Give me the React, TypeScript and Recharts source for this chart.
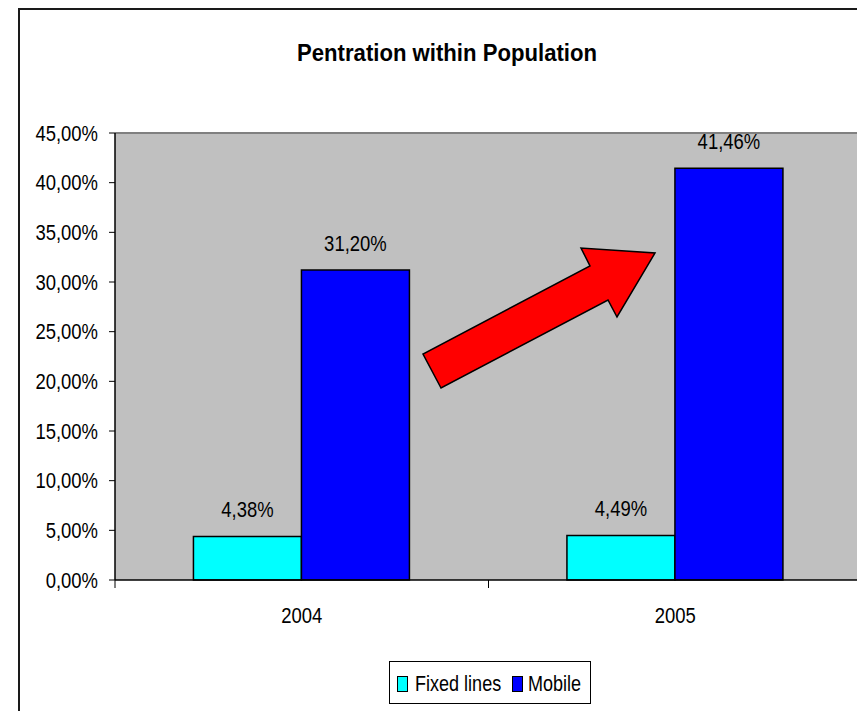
import {
  Bar,
  BarChart,
  CartesianGrid,
  Customized,
  LabelList,
  Legend,
  XAxis,
  YAxis,
} from "recharts";

const years = ["2004", "2005"];
const fixedLines = [4.38, 4.49];
const mobile = [31.2, 41.46];
const yTicks = [0, 5, 10, 15, 20, 25, 30, 35, 40, 45];

const data = years.map((year, i) => ({
  year,
  fixed: fixedLines[i],
  mobile: mobile[i],
}));

const FONT = "'Liberation Sans', Arial, sans-serif";
const FONT_SIZE = 22;
// no narrow face available, so text is squeezed horizontally
const SQUEEZE = 0.84;

// chart box and plot area (px, inside the framed box)
const W = 900;
const H = 760;
const PLOT_LEFT = 95;
const PLOT_TOP = 123;
const PLOT_RIGHT = 842;
const PLOT_BOTTOM = 570;
const X_AXIS_H = 40;
const BAND = (PLOT_RIGHT - PLOT_LEFT) / years.length;

const pct = (v: number) => v.toFixed(2).replace(".", ",") + "%";

interface NarrowProps {
  x: number;
  y: number;
  anchor?: "start" | "middle" | "end";
  dy?: string;
  squeeze?: number;
  children: React.ReactNode;
}

const NarrowText = ({ x, y, anchor = "middle", dy, squeeze = SQUEEZE, children }: NarrowProps) => (
  <text
    transform={`translate(${x},${y}) scale(${squeeze},1)`}
    textAnchor={anchor}
    dy={dy}
    fill="#000"
    fontSize={FONT_SIZE}
    fontFamily={FONT}
  >
    {children}
  </text>
);

// category label in the middle, tick marks on the band edges
// eslint-disable-next-line  @typescript-eslint/no-explicit-any
const YearTick = (props: any) => {
  const { x, payload } = props;
  const half = payload?.offset ? payload.offset : BAND / 2;
  return (
    <g>
      <line x1={x - half} x2={x - half} y1={PLOT_BOTTOM} y2={PLOT_BOTTOM + 8} stroke="#000" />
      <line x1={x + half} x2={x + half} y1={PLOT_BOTTOM} y2={PLOT_BOTTOM + 8} stroke="#000" />
      <NarrowText x={x} y={PLOT_BOTTOM + 43}>
        {payload.value}
      </NarrowText>
    </g>
  );
};

// eslint-disable-next-line  @typescript-eslint/no-explicit-any
const PctTick = (props: any) => {
  const { x, y, payload } = props;
  return (
    <NarrowText x={x} y={y} anchor="end" dy="0.355em">
      {pct(payload.value)}
    </NarrowText>
  );
};

// eslint-disable-next-line  @typescript-eslint/no-explicit-any
const ValueLabel = (props: any) => {
  const { x, y, width, value } = props;
  return (
    <NarrowText x={Number(x) + Number(width) / 2} y={Number(y) - 19}>
      {pct(Number(value))}
    </NarrowText>
  );
};

const PlotFrame = () => (
  <g>
    <line x1={PLOT_LEFT} x2={PLOT_RIGHT} y1={PLOT_TOP} y2={PLOT_TOP} stroke="#808080" strokeWidth={2} />
    <line x1={PLOT_RIGHT} x2={PLOT_RIGHT} y1={PLOT_TOP} y2={PLOT_BOTTOM} stroke="#808080" strokeWidth={2} />
  </g>
);

const Title = () => (
  <text
    x={427}
    y={51}
    textAnchor="middle"
    fontSize={24}
    fontWeight="bold"
    fontFamily={FONT}
    textLength={300}
    lengthAdjust="spacingAndGlyphs"
    fill="#000"
  >
    Pentration within Population
  </text>
);

const GrowthArrow = () => (
  <polygon
    points="421,378 403,344 570,256 561,238 635,243 597,307 588,290"
    fill="#ff0000"
    stroke="#000"
    strokeWidth={1.5}
    strokeLinejoin="miter"
  />
);

// legend: framed box, swatch + label per series
const LEGEND_W = 202;
const LEGEND_H = 43;
const legendSlots = [
  { swatch: 8, text: 26 },
  { swatch: 123, text: 139 },
];

// eslint-disable-next-line  @typescript-eslint/no-explicit-any
const LegendBox = (props: any) => {
  const { payload = [] } = props;
  return (
    <svg width={LEGEND_W} height={LEGEND_H} style={{ display: "block" }}>
      <rect x={0.5} y={0.5} width={LEGEND_W - 1} height={LEGEND_H - 1} fill="#fff" stroke="#000" />
      {/* eslint-disable-next-line  @typescript-eslint/no-explicit-any */}
      {payload.map((item: any, i: number) => {
        const slot = legendSlots[i] ?? legendSlots[0];
        return (
          <g key={item.value}>
            <rect x={slot.swatch + 0.5} y={15.5} width={10} height={15} fill={item.color} stroke="#000" />
            <NarrowText x={slot.text} y={30} anchor="start" squeeze={0.82}>
              {item.value}
            </NarrowText>
          </g>
        );
      })}
    </svg>
  );
};

const App = () => {
  return (
    <div style={{ width: 857, height: 703, overflow: "hidden" }}>
      <div
        style={{
          marginLeft: 10,
          width: W,
          height: H,
          borderLeft: "2px solid #1a1a1a",
          borderTop: "2px solid #1a1a1a",
        }}
      >
        <BarChart
          width={W}
          height={H}
          data={data}
          margin={{
            top: PLOT_TOP,
            right: W - PLOT_RIGHT,
            left: 0,
            bottom: H - PLOT_BOTTOM - X_AXIS_H,
          }}
          barCategoryGap="21%"
          barGap={0}
        >
          <CartesianGrid fill="#c0c0c0" fillOpacity={1} horizontal={false} vertical={false} />
          <XAxis
            dataKey="year"
            height={X_AXIS_H}
            axisLine={{ stroke: "#000", strokeWidth: 1.5 }}
            tickLine={false}
            tick={<YearTick />}
          />
          <YAxis
            width={PLOT_LEFT}
            domain={[0, 45]}
            ticks={yTicks}
            interval={0}
            tickSize={6}
            tickMargin={11}
            axisLine={{ stroke: "#000", strokeWidth: 1.5 }}
            tickLine={{ stroke: "#000" }}
            tick={<PctTick />}
          />
          <Legend
            layout="horizontal"
            verticalAlign="middle"
            align="center"
            content={<LegendBox />}
            wrapperStyle={{ left: 369, top: 651, width: LEGEND_W, height: LEGEND_H }}
          />
          <Bar
            dataKey="fixed"
            name="Fixed lines"
            fill="#00ffff"
            stroke="#000"
            strokeWidth={1.5}
            isAnimationActive={false}
          >
            <LabelList dataKey="fixed" content={<ValueLabel />} />
          </Bar>
          <Bar
            dataKey="mobile"
            name="Mobile"
            fill="#0000ff"
            stroke="#000"
            strokeWidth={1.5}
            isAnimationActive={false}
          >
            <LabelList dataKey="mobile" content={<ValueLabel />} />
          </Bar>
          <Customized component={<PlotFrame />} />
          <Customized component={<GrowthArrow />} />
          <Customized component={<Title />} />
        </BarChart>
      </div>
    </div>
  );
};

export default App;
